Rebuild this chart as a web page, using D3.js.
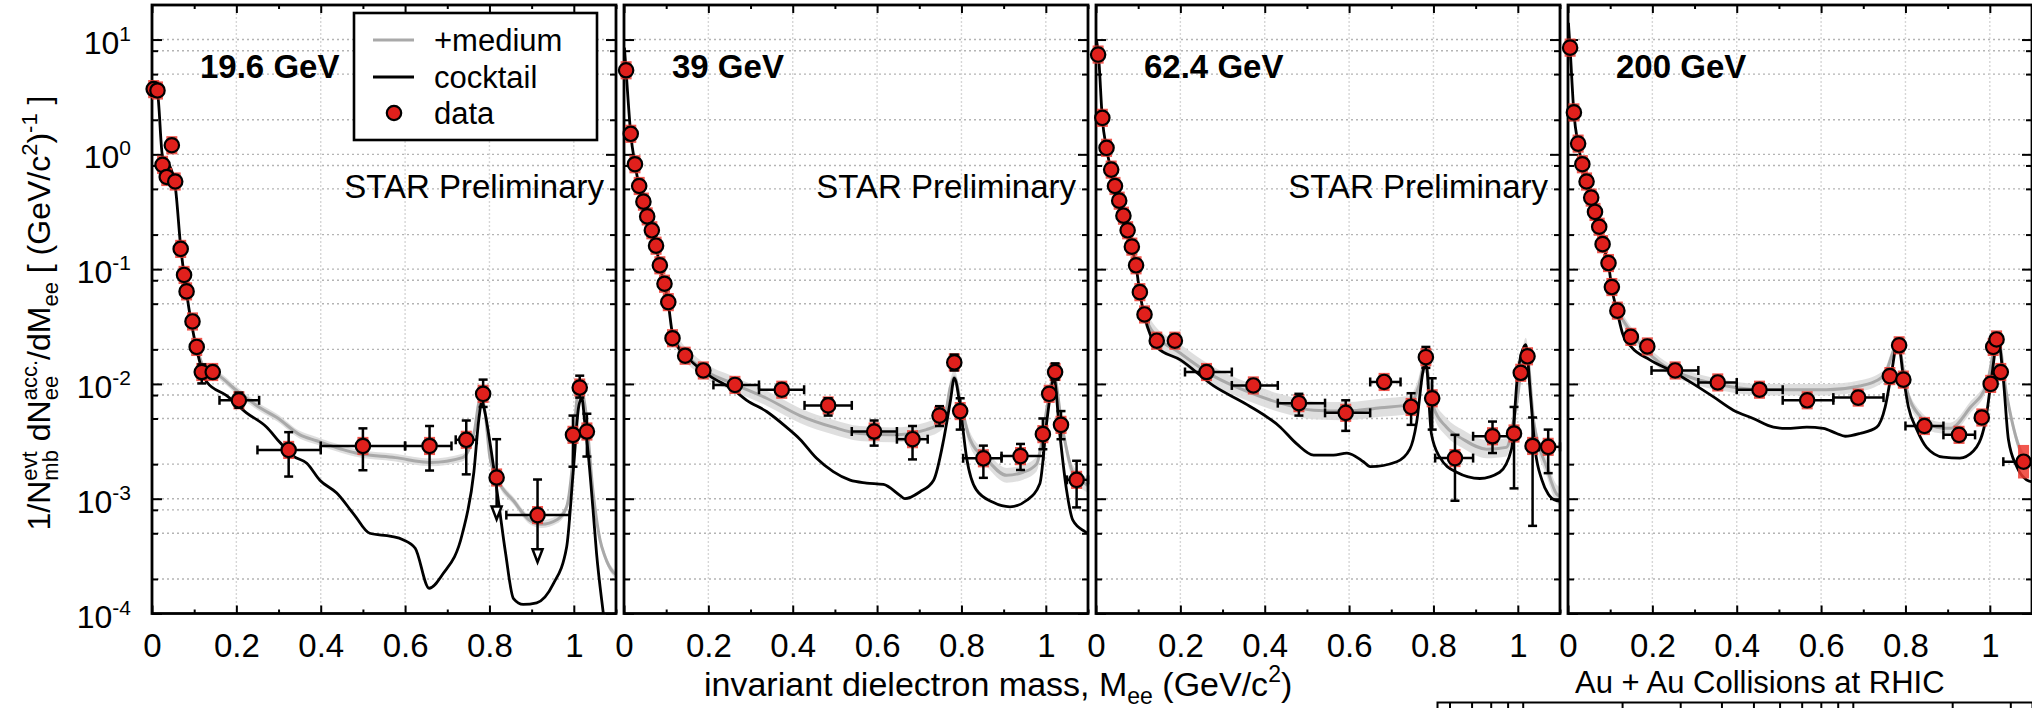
<!DOCTYPE html>
<html>
<head>
<meta charset="utf-8">
<script src="https://cdn.jsdelivr.net/npm/d3@7"></script>
<style>
  body { margin: 0; background: #fff; }
  svg { display: block; font-family: "Liberation Sans", Arial, Helvetica, sans-serif; }
  text { white-space: pre; }
</style>
</head>
<body>
<svg id="chart" width="2032" height="708"></svg>
<script>
// --- data ---
const energies = ["19.6 GeV", "39 GeV", "62.4 GeV", "200 GeV"];
const showStar = [true, true, true, false];

const xTickVals = [0, 0.2, 0.4, 0.6, 0.8, 1];
const xTickLabels = ["0", "0.2", "0.4", "0.6", "0.8", "1"];
const xMinorVals = [0.1, 0.3, 0.5, 0.7, 0.9, 1.1];
const yDecades = [1e-4, 1e-3, 1e-2, 1e-1, 1, 10];
const yExponents = ["-4", "-3", "-2", "-1", "0", "1"];
const yMinorMult = [2, 5, 8];

// points: [mass, value, xLo, xHi, yLo, yHi, sys]
const points19 = [
  [0.004, 3.7], [0.013, 3.6], [0.025, 0.81], [0.035, 0.635], [0.047, 1.2],
  [0.055, 0.58], [0.068, 0.15], [0.076, 0.089], [0.082, 0.064], [0.096, 0.035],
  [0.106, 0.021], [0.118, 0.0127, null, null, 0.0101, 0.0148], [0.144, 0.0127],
  [0.206, 0.0072, 0.16, 0.254, 0.0062, 0.0084],
  [0.324, 0.00266, 0.25, 0.4, 0.00156, 0.0038],
  [0.5, 0.00288, 0.4, 0.6, 0.00177, 0.0041],
  [0.658, 0.00288, 0.6, 0.71, 0.00176, 0.0043],
  [0.745, 0.00326, 0.72, 0.77, 0.00163, 0.0048],
  [0.785, 0.0082, null, null, 0.0063, 0.0109],
  [0.817, 0.00153, null, null, 0.00066, 0.0033],
  [0.914, 0.00072, 0.84, 0.99, 0.00028, 0.00147],
  [0.998, 0.0036, null, null, 0.0019, 0.0053],
  [1.014, 0.0093, null, null, 0.0076, 0.0118],
  [1.031, 0.00385, null, null, 0.00233, 0.0055]
];
const points39 = [
  [0.005, 5.4], [0.016, 1.51], [0.026, 0.82], [0.036, 0.53], [0.046, 0.387],
  [0.055, 0.288], [0.066, 0.218], [0.076, 0.16], [0.085, 0.108], [0.096, 0.0746],
  [0.105, 0.0516], [0.115, 0.025], [0.145, 0.0176], [0.188, 0.0131],
  [0.263, 0.0098, 0.212, 0.32],
  [0.374, 0.0089, 0.32, 0.427],
  [0.484, 0.0065, 0.428, 0.54, 0.0053, 0.0075],
  [0.593, 0.00385, 0.54, 0.647, 0.0029, 0.0048],
  [0.684, 0.0033, 0.647, 0.72, 0.0022, 0.0043],
  [0.748, 0.0053, null, null, 0.0043, 0.0064],
  [0.783, 0.0154, null, null, 0.0131, 0.018],
  [0.797, 0.0058, null, null, 0.004, 0.0075],
  [0.852, 0.00225, 0.804, 0.895, 0.00152, 0.0029],
  [0.94, 0.00235, 0.895, 0.994, 0.00178, 0.003],
  [0.993, 0.00365, null, null, 0.0027, 0.005],
  [1.008, 0.0082],
  [1.022, 0.0127, null, null, 0.0109, 0.0151],
  [1.036, 0.0044, null, null, 0.0033, 0.0058],
  [1.073, 0.00146, 1.05, 1.1, 0.00084, 0.00214]
];
const points62 = [
  [0.005, 7.4], [0.015, 2.08], [0.025, 1.14], [0.036, 0.736], [0.045, 0.53],
  [0.055, 0.395], [0.065, 0.292], [0.075, 0.218], [0.085, 0.157], [0.095, 0.108],
  [0.104, 0.063], [0.115, 0.0403], [0.144, 0.0238], [0.187, 0.0238],
  [0.262, 0.0127, 0.211, 0.322],
  [0.373, 0.0097, 0.322, 0.431],
  [0.481, 0.0068, 0.431, 0.543, 0.0053, 0.0082],
  [0.592, 0.0056, 0.543, 0.65, 0.0039, 0.0072],
  [0.683, 0.0104, 0.65, 0.722],
  [0.747, 0.0063, null, null, 0.0044, 0.0083],
  [0.782, 0.0171, null, null, 0.0138, 0.021],
  [0.797, 0.0075, null, null, 0.004, 0.0112],
  [0.851, 0.00226, 0.804, 0.894, 0.00096, 0.0036],
  [0.94, 0.0035, 0.894, 0.99, 0.0025, 0.0047],
  [0.991, 0.0037, null, null, 0.00123, 0.0063],
  [1.007, 0.0125],
  [1.023, 0.0174],
  [1.035, 0.00288, null, null, 0.00058, 0.0051],
  [1.072, 0.00283, 1.05, 1.1, 0.00167, 0.004]
];
const points200 = [
  [0.005, 8.5], [0.014, 2.32], [0.024, 1.24], [0.034, 0.82], [0.044, 0.58],
  [0.055, 0.42], [0.064, 0.315], [0.074, 0.234], [0.082, 0.165], [0.096, 0.113],
  [0.104, 0.0698], [0.117, 0.0435], [0.149, 0.0257], [0.188, 0.0212],
  [0.254, 0.0131, 0.198, 0.309],
  [0.355, 0.0103, 0.309, 0.4],
  [0.454, 0.0089, 0.4, 0.509],
  [0.567, 0.0072, 0.509, 0.629],
  [0.688, 0.0076, 0.629, 0.748],
  [0.763, 0.0117], [0.785, 0.0217], [0.795, 0.0109],
  [0.845, 0.0043, 0.8, 0.89],
  [0.927, 0.0036, 0.89, 0.965],
  [0.981, 0.0051], [1.002, 0.01], [1.008, 0.021], [1.016, 0.0244], [1.026, 0.0127],
  [1.08, 0.0021, 1.032, 1.1, null, null, 0.4]
];
// data points that are upper limits (mass)
const upperLimits = [[0.817, 0.914], [], [], []];

// cocktail: [mass, value]
const cocktail19 = [
  [0.002, 4.2], [0.005, 3.7], [0.013, 3.4], [0.025, 0.96], [0.04, 0.82], [0.055, 0.53],
  [0.068, 0.157], [0.082, 0.062], [0.106, 0.02], [0.13, 0.0104], [0.177, 0.0079],
  [0.224, 0.0056], [0.272, 0.0042], [0.303, 0.0031], [0.335, 0.00235], [0.367, 0.00204],
  [0.398, 0.00145], [0.438, 0.00112], [0.48, 0.00072], [0.516, 0.0005], [0.567, 0.00047],
  [0.595, 0.00044], [0.624, 0.00037], [0.657, 0.000166], [0.689, 0.00022], [0.736, 0.0005],
  [0.763, 0.0017], [0.775, 0.005], [0.782, 0.007], [0.79, 0.0055], [0.8, 0.0033],
  [0.82, 0.00103], [0.838, 0.00034], [0.857, 0.000135], [0.88, 0.00012], [0.912, 0.000124],
  [0.951, 0.00018], [0.983, 0.00038], [0.999, 0.0018], [1.012, 0.0065], [1.019, 0.0075],
  [1.026, 0.0046], [1.034, 0.0025], [1.045, 0.00085], [1.054, 0.00033], [1.07, 0.0001],
  [1.08, 0.00005]
];
const cocktail39 = [
  [0.001, 8.5], [0.005, 5.3], [0.016, 1.5], [0.026, 0.82], [0.036, 0.53], [0.046, 0.385],
  [0.055, 0.285], [0.066, 0.215], [0.076, 0.158], [0.085, 0.106], [0.096, 0.073],
  [0.105, 0.05], [0.115, 0.027], [0.125, 0.022], [0.156, 0.0162], [0.204, 0.0117],
  [0.259, 0.0089], [0.291, 0.0072], [0.338, 0.00575], [0.385, 0.0042], [0.417, 0.0033],
  [0.456, 0.00226], [0.496, 0.00172], [0.536, 0.00145], [0.575, 0.00137], [0.615, 0.00133],
  [0.654, 0.00107], [0.666, 0.001], [0.702, 0.00115], [0.734, 0.00145], [0.758, 0.0033],
  [0.774, 0.0072], [0.783, 0.0112], [0.797, 0.0063], [0.812, 0.0023], [0.835, 0.0012],
  [0.875, 0.00093], [0.915, 0.00085], [0.955, 0.00097], [0.986, 0.00136], [1.002, 0.0046],
  [1.014, 0.0096], [1.019, 0.0115], [1.033, 0.0037], [1.049, 0.0012], [1.064, 0.00065],
  [1.092, 0.00052], [1.1, 0.0005]
];
const cocktail62 = [
  [0.001, 10], [0.006, 7.2], [0.015, 2.05], [0.025, 1.12], [0.036, 0.72], [0.045, 0.52],
  [0.055, 0.39], [0.065, 0.29], [0.075, 0.215], [0.085, 0.155], [0.095, 0.106],
  [0.104, 0.062], [0.115, 0.039], [0.13, 0.026], [0.144, 0.021], [0.2, 0.0162],
  [0.279, 0.0096], [0.358, 0.0066], [0.437, 0.0042], [0.476, 0.003], [0.516, 0.0024],
  [0.563, 0.0024], [0.595, 0.0025], [0.634, 0.0021], [0.65, 0.0019], [0.713, 0.0021],
  [0.744, 0.0027], [0.76, 0.0046], [0.775, 0.0127], [0.782, 0.0155], [0.795, 0.0037],
  [0.815, 0.0023], [0.855, 0.0017], [0.91, 0.0015], [0.957, 0.0017], [0.985, 0.0027],
  [1.0, 0.0125], [1.019, 0.022], [1.03, 0.008], [1.041, 0.0027], [1.057, 0.00146],
  [1.072, 0.0011], [1.092, 0.00096], [1.1, 0.00095]
];
const cocktail200 = [
  [0.001, 14], [0.005, 8.3], [0.014, 2.3], [0.024, 1.22], [0.034, 0.81], [0.044, 0.57],
  [0.055, 0.41], [0.064, 0.31], [0.074, 0.23], [0.082, 0.163], [0.096, 0.11],
  [0.104, 0.068], [0.117, 0.042], [0.13, 0.027], [0.15, 0.021], [0.194, 0.0162],
  [0.25, 0.0127], [0.297, 0.01], [0.345, 0.0077], [0.392, 0.0059], [0.439, 0.005],
  [0.487, 0.0042], [0.518, 0.0041], [0.566, 0.0042], [0.605, 0.0041], [0.637, 0.0037],
  [0.657, 0.0035], [0.692, 0.0037], [0.732, 0.0042], [0.752, 0.0063], [0.767, 0.0125],
  [0.782, 0.024], [0.795, 0.0115], [0.807, 0.0063], [0.827, 0.004], [0.85, 0.0028],
  [0.89, 0.0023], [0.929, 0.00226], [0.961, 0.0026], [0.989, 0.0046], [1.005, 0.012],
  [1.019, 0.025], [1.032, 0.011], [1.044, 0.0033], [1.064, 0.0019], [1.087, 0.00146],
  [1.1, 0.0014]
];

// +medium: [mass, value]
const medium19 = [
  [0.106, 0.021], [0.125, 0.0135], [0.153, 0.0122], [0.2, 0.0088], [0.256, 0.0062],
  [0.296, 0.0051], [0.351, 0.0036], [0.39, 0.0032], [0.45, 0.0027], [0.483, 0.0025],
  [0.577, 0.00228], [0.661, 0.00207], [0.736, 0.00228], [0.765, 0.004], [0.775, 0.0069],
  [0.782, 0.0076], [0.79, 0.0055], [0.801, 0.0023], [0.82, 0.00145], [0.858, 0.00095],
  [0.895, 0.00065], [0.923, 0.0006], [0.961, 0.00066], [0.983, 0.00085], [0.995, 0.0017],
  [1.008, 0.0075], [1.019, 0.0085], [1.027, 0.0063], [1.045, 0.0012], [1.062, 0.00044],
  [1.073, 0.00032], [1.093, 0.00023], [1.1, 0.00022]
];
const medium39 = [
  [0.115, 0.027], [0.125, 0.023], [0.18, 0.014], [0.26, 0.01], [0.338, 0.0075],
  [0.417, 0.0053], [0.496, 0.0042], [0.559, 0.0037], [0.638, 0.0036], [0.717, 0.004],
  [0.758, 0.0048], [0.774, 0.0095], [0.783, 0.0115], [0.8, 0.0063], [0.82, 0.0033],
  [0.86, 0.0022], [0.907, 0.0016], [0.946, 0.0017], [0.978, 0.002], [1.006, 0.0072],
  [1.019, 0.0118], [1.038, 0.0044], [1.064, 0.0017], [1.092, 0.00136], [1.1, 0.0013]
];
const medium62 = [
  [0.115, 0.04], [0.13, 0.03], [0.2, 0.0185], [0.279, 0.0117], [0.358, 0.0086],
  [0.437, 0.0068], [0.516, 0.0059], [0.595, 0.0058], [0.674, 0.0062], [0.744, 0.0066],
  [0.765, 0.0095], [0.78, 0.015], [0.8, 0.0063], [0.831, 0.0042], [0.87, 0.0033],
  [0.926, 0.0027], [0.973, 0.0028], [0.995, 0.006], [1.019, 0.021], [1.038, 0.0046],
  [1.068, 0.0019], [1.092, 0.0011], [1.1, 0.00105]
];
const medium200 = [
  [0.117, 0.043], [0.15, 0.028], [0.218, 0.0152], [0.297, 0.0112], [0.376, 0.0096],
  [0.455, 0.0089], [0.534, 0.0089], [0.613, 0.0089], [0.692, 0.0096], [0.748, 0.0117],
  [0.782, 0.022], [0.803, 0.0089], [0.835, 0.0052], [0.874, 0.0042], [0.906, 0.0041],
  [0.953, 0.0062], [0.993, 0.01], [1.019, 0.025], [1.04, 0.008], [1.08, 0.0023],
  [1.1, 0.002]
];
// relative half-width of the +medium band
const bandFrac = [0.08, 0.16, 0.2, 0.12];

// bottom-right: top edge of the next figure (log axis)
const nextAxisTicks = [0.6, 0.7, 0.8, 0.9, 1, 2, 3, 4, 5, 6, 7, 8, 9, 10, 20, 30];

const allPoints = [points19, points39, points62, points200];
const allCocktail = [cocktail19, cocktail39, cocktail62, cocktail200];
const allMedium = [medium19, medium39, medium62, medium200];

// --- layout ---
const panelW = 464, panelStep = 472, left0 = 152, plotTop = 5, plotBottom = 613.5;
const red = "#e0201c", sysRed = "#f03a30", medGray = "#a9a9a9", bandGray = "#dcdcdc";

const svg = d3.select("#chart");
const y = d3.scaleLog().domain([1e-4, 20]).range([plotBottom, plotTop]);

const yMinor = [];
yDecades.slice(0, -1).forEach(d => yMinorMult.forEach(k => yMinor.push(k * d)));
const yGrid = yDecades.slice(1).concat(yMinor);

const defs = svg.append("defs");

energies.forEach((label, i) => {
  const x0 = left0 + i * panelStep;
  const x = d3.scaleLinear().domain([0, 1.1]).range([x0, x0 + panelW]);
  const g = svg.append("g");

  defs.append("clipPath").attr("id", "clip" + i)
    .append("rect").attr("x", x0).attr("y", plotTop)
    .attr("width", panelW).attr("height", plotBottom - plotTop);

  // grid
  g.append("g").selectAll("line").data(yGrid).join("line")
    .attr("x1", x0).attr("x2", x0 + panelW)
    .attr("y1", d => y(d)).attr("y2", d => y(d))
    .attr("stroke", "#b4b4b4").attr("stroke-width", 1.4)
    .attr("stroke-dasharray", "2,3");
  g.append("g").selectAll("line").data(xTickVals.slice(1)).join("line")
    .attr("x1", d => x(d)).attr("x2", d => x(d))
    .attr("y1", plotTop).attr("y2", plotBottom)
    .attr("stroke", "#d6d6d6").attr("stroke-width", 1.4)
    .attr("stroke-dasharray", "2,2");

  // medium band + line, cocktail
  const bf = bandFrac[i];
  const curves = g.append("g").attr("clip-path", `url(#clip${i})`);
  curves.append("path").datum(allMedium[i])
    .attr("fill", bandGray).attr("opacity", 0.9)
    .attr("d", d3.area().curve(d3.curveMonotoneX)
      .x(d => x(d[0])).y0(d => y(d[1] / (1 + bf))).y1(d => y(d[1] * (1 + bf))));
  curves.append("path").datum(allMedium[i])
    .attr("fill", "none").attr("stroke", medGray).attr("stroke-width", 3)
    .attr("d", d3.line().curve(d3.curveMonotoneX).x(d => x(d[0])).y(d => y(d[1])));
  curves.append("path").datum(allCocktail[i])
    .attr("fill", "none").attr("stroke", "#000").attr("stroke-width", 2.8)
    .attr("stroke-linejoin", "round")
    .attr("d", d3.line().curve(d3.curveMonotoneX).x(d => x(d[0])).y(d => y(d[1])));

  // axes (ticks inward)
  const ax = g.append("g").attr("class", "axes");
  ax.append("g").attr("transform", `translate(0,${plotBottom})`)
    .call(d3.axisBottom(x).tickValues(xTickVals).tickSize(-8).tickSizeOuter(0)
      .tickPadding(20).tickFormat((d, k) => xTickLabels[k]));
  ax.append("g").attr("transform", `translate(0,${plotBottom})`)
    .call(d3.axisBottom(x).tickValues(xMinorVals).tickSize(-4).tickSizeOuter(0).tickFormat(""));
  ax.append("g").attr("transform", `translate(0,${plotTop})`)
    .call(d3.axisTop(x).tickValues(xTickVals).tickSize(-8).tickSizeOuter(0).tickFormat(""));
  ax.append("g").attr("transform", `translate(0,${plotTop})`)
    .call(d3.axisTop(x).tickValues(xMinorVals).tickSize(-4).tickSizeOuter(0).tickFormat(""));
  ax.append("g").attr("transform", `translate(${x0},0)`)
    .call(d3.axisLeft(y).tickValues(yDecades).tickSize(-10).tickSizeOuter(0).tickFormat(""));
  ax.append("g").attr("transform", `translate(${x0},0)`)
    .call(d3.axisLeft(y).tickValues(yMinor).tickSize(-6).tickSizeOuter(0).tickFormat(""));
  ax.append("g").attr("transform", `translate(${x0 + panelW},0)`)
    .call(d3.axisRight(y).tickValues(yDecades).tickSize(-10).tickSizeOuter(0).tickFormat(""));
  ax.append("g").attr("transform", `translate(${x0 + panelW},0)`)
    .call(d3.axisRight(y).tickValues(yMinor).tickSize(-6).tickSizeOuter(0).tickFormat(""));
  ax.selectAll(".domain").remove();
  ax.selectAll(".tick line").attr("stroke", "#000").attr("stroke-width", 2);
  ax.selectAll(".tick text").attr("font-size", 33).attr("fill", "#000")
    .attr("font-family", "Liberation Sans, Arial, sans-serif");

  // frame
  g.append("rect").attr("x", x0).attr("y", plotTop)
    .attr("width", panelW).attr("height", plotBottom - plotTop)
    .attr("fill", "none").attr("stroke", "#000").attr("stroke-width", 2.8);

  // data points
  const pts = allPoints[i];
  const ul = upperLimits[i];
  const pg = g.append("g");
  const cap = 4.5;

  // systematic boxes
  pg.selectAll("rect.sys").data(pts).join("rect").attr("class", "sys")
    .attr("x", d => x(d[0]) - 5.5).attr("width", 11)
    .attr("y", d => y(d[1] * (1 + (d[6] || 0.2))))
    .attr("height", d => y(d[1] / (1 + (d[6] || 0.2))) - y(d[1] * (1 + (d[6] || 0.2))))
    .attr("fill", sysRed).attr("opacity", 0.85);

  const err = pg.append("g").attr("stroke", "#000").attr("stroke-width", 2.5).attr("fill", "none");
  pts.forEach(d => {
    const cx = x(d[0]), cy = y(d[1]);
    if (d[2] != null) {
      err.append("line").attr("x1", x(d[2])).attr("x2", x(d[3])).attr("y1", cy).attr("y2", cy);
      [d[2], d[3]].forEach(v => err.append("line")
        .attr("x1", x(v)).attr("x2", x(v)).attr("y1", cy - cap).attr("y2", cy + cap));
    }
    if (d[4] != null) {
      const isUL = ul.includes(d[0]);
      err.append("line").attr("x1", cx).attr("x2", cx).attr("y1", y(d[5]))
        .attr("y2", isUL ? y(d[4]) - 12 : y(d[4]));
      err.append("line").attr("x1", cx - cap).attr("x2", cx + cap).attr("y1", y(d[5])).attr("y2", y(d[5]));
      if (isUL) {
        const ty = y(d[4]);
        err.append("path").attr("fill", "#fff")
          .attr("d", `M${cx - 5},${ty - 13}L${cx + 5},${ty - 13}L${cx},${ty}Z`);
      } else {
        err.append("line").attr("x1", cx - cap).attr("x2", cx + cap).attr("y1", y(d[4])).attr("y2", y(d[4]));
      }
    }
  });

  pg.selectAll("circle").data(pts).join("circle")
    .attr("cx", d => x(d[0])).attr("cy", d => y(d[1])).attr("r", 7.2)
    .attr("fill", red).attr("stroke", "#000").attr("stroke-width", 2.2);

  // labels
  g.append("text").attr("x", x0 + 48).attr("y", 78)
    .attr("font-size", 33).attr("font-weight", "bold").text(label);
  if (showStar[i]) {
    g.append("text").attr("x", x0 + panelW - 12).attr("y", 198)
      .attr("text-anchor", "end").attr("font-size", 33).text("STAR Preliminary");
  }
});

// y tick labels (10^n)
const yl = svg.append("g").attr("font-size", 32);
yDecades.forEach((d, k) => {
  const t = yl.append("text").attr("x", 131).attr("y", y(d) + 14).attr("text-anchor", "end");
  t.append("tspan").text("10");
  t.append("tspan").attr("font-size", 21).attr("dy", -13).text(yExponents[k]);
});

// legend
const lg = svg.append("g");
lg.append("rect").attr("x", 354).attr("y", 13).attr("width", 243).attr("height", 127)
  .attr("fill", "#fff").attr("stroke", "#000").attr("stroke-width", 2.6);
lg.append("line").attr("x1", 373).attr("x2", 414).attr("y1", 40).attr("y2", 40)
  .attr("stroke", medGray).attr("stroke-width", 3);
lg.append("line").attr("x1", 373).attr("x2", 414).attr("y1", 77).attr("y2", 77)
  .attr("stroke", "#000").attr("stroke-width", 2.8);
lg.append("circle").attr("cx", 394).attr("cy", 113).attr("r", 7.2)
  .attr("fill", red).attr("stroke", "#000").attr("stroke-width", 2.2);
[["+medium", 51], ["cocktail", 88], ["data", 124]].forEach(([t, yy]) =>
  lg.append("text").attr("x", 434).attr("y", yy).attr("font-size", 31).text(t));

// y axis title
const yt = svg.append("text").attr("transform", "translate(50,313) rotate(-90)")
  .attr("text-anchor", "middle").attr("font-size", 32);
yt.append("tspan").text("1/N");
const tEvt = yt.append("tspan").attr("font-size", 22).attr("dy", -13).text("evt");
const tMb = yt.append("tspan").attr("font-size", 22).attr("dy", 21).text("mb");
tMb.attr("dx", -tEvt.node().getComputedTextLength());
yt.append("tspan").attr("dy", -8).text(" dN");
const tEe = yt.append("tspan").attr("font-size", 22).attr("dy", 8).text("ee");
const tAcc = yt.append("tspan").attr("font-size", 22).attr("dy", -21).text("acc.");
tAcc.attr("dx", -tEe.node().getComputedTextLength());
yt.append("tspan").attr("dy", 13).text("/dM");
yt.append("tspan").attr("font-size", 22).attr("dy", 8).text("ee");
yt.append("tspan").attr("dy", -8).text(" [ (GeV/c");
yt.append("tspan").attr("font-size", 22).attr("dy", -13).text("2");
yt.append("tspan").attr("dy", 13).text(")");
yt.append("tspan").attr("font-size", 22).attr("dy", -13).text("-1");
yt.append("tspan").attr("dy", 13).text(" ]");

// x axis title
const xt = svg.append("text").attr("x", 704).attr("y", 696).attr("font-size", 34);
xt.append("tspan").text("invariant dielectron mass, M");
xt.append("tspan").attr("font-size", 23).attr("dy", 8).text("ee");
xt.append("tspan").attr("dy", -8).text(" (GeV/c");
xt.append("tspan").attr("font-size", 23).attr("dy", -14).text("2");
xt.append("tspan").attr("dy", 14).text(")");

// bottom-right: caption and edge of the next figure
svg.append("text").attr("x", 1575).attr("y", 693).attr("font-size", 31)
  .text("Au + Au Collisions at RHIC");
const xr = d3.scaleLog().domain([0.55, 34.9]).range([1437, 2032]);
const nx = svg.append("g").attr("transform", "translate(0,702)")
  .call(d3.axisBottom(xr).tickValues(nextAxisTicks).tickSize(6).tickSizeOuter(8).tickFormat(""));
nx.selectAll("path, line").attr("stroke", "#000").attr("stroke-width", 2);
nx.selectAll(".tick").filter(d => d === 1 || d === 10).select("line").attr("y2", 10);
</script>
</body>
</html>
